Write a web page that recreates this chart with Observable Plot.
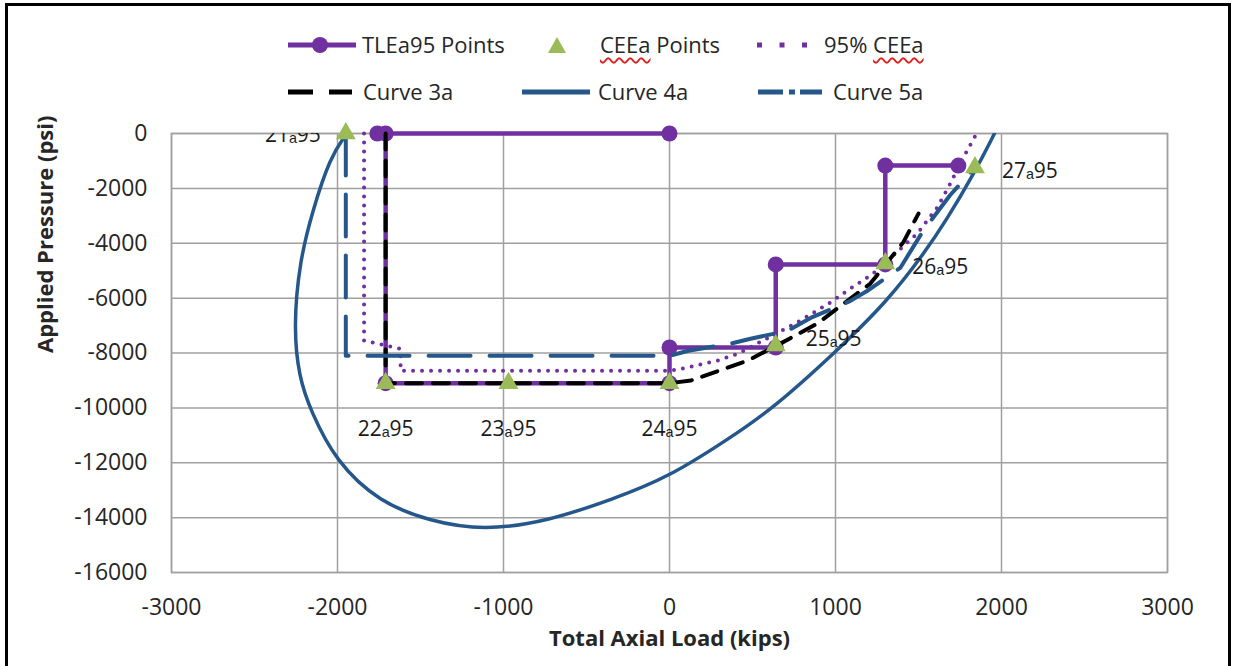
<!DOCTYPE html>
<html>
<head>
<meta charset="utf-8">
<script src="https://cdn.jsdelivr.net/npm/d3@7"></script>
<script src="https://cdn.jsdelivr.net/npm/@observablehq/plot@0.6"></script>
<style>
  body { margin: 0; background: #fff; font-family: "Open Sans", sans-serif; }
  #wrap { position: relative; width: 1233px; height: 666px; overflow: hidden; background: #fff; }
  #frame { position: absolute; left: 5px; top: 3px; width: 1226px; height: 720px; border: 3px solid #000; box-sizing: border-box; pointer-events: none; }
  #legend { position: relative; height: 110px; }
  .sw { position: absolute; overflow: visible; }
  .lt { position: absolute; font-size: 22px; line-height: 22px; color: #262626; white-space: nowrap; }
  .sp { text-decoration: underline wavy #e02020; text-decoration-skip-ink: none; text-underline-offset: 4px; text-decoration-thickness: 1.5px; }
  #chart svg { display: block; }
</style>
</head>
<body>
<div id="wrap">
  <div id="legend"></div>
  <div id="chart"></div>
  <div id="frame"></div>
</div>
<script>
// ---------- data ----------
const xTicks = [-3000, -2000, -1000, 0, 1000, 2000, 3000];
const yTicks = [0, -2000, -4000, -6000, -8000, -10000, -12000, -14000, -16000];

// TLEa95 Points (step line with circle markers)
const tleX = [0, -1760, -1710, -1710, 0, 0, 640, 640, 1300, 1300, 1740];
const tleY = [0, 0, 0, -9100, -9100, -7800, -7800, -4770, -4770, -1170, -1170];

// CEEa Points (triangles) and their labels
const ceeX = [-1950, -1710, -970, 0, 640, 1300, 1840];
const ceeY = [0, -9100, -9100, -9100, -7730, -4740, -1240];
const ceeLabels = ["21ₐ95", "22ₐ95", "23ₐ95", "24ₐ95", "25ₐ95", "26ₐ95", "27ₐ95"];

// 95% CEEa (dotted)
const dotX = [-1840, -1840, -1620, -1620, 0, 84, 289, 415, 640, 789, 969, 1072, 1228, 1493, 1613, 1692, 1770, 1850];
const dotY = [0, -7550, -7850, -8650, -8650, -8565, -8275, -8020, -7300, -6816, -6160, -5723, -5103, -3645, -2697, -1822, -875, 0];

// Curve 3a (black dashed)
const c3X = [-1710, -1710, 0, 130, 470, 670, 890, 1210, 1410, 1500];
const c3Y = [0, -9100, -9100, -9000, -8280, -7650, -6930, -5470, -3950, -2920];

// Curve 4a (solid blue loop)
const c4X = [-1945, -2045, -2150, -2228, -2265, -2232, -2162, -2010, -1748, -1440, -1119, -737, -337, -6, 367, 627, 990, 1316, 1532, 1666, 1833, 1952, 2024];
const c4Y = [0, -872, -2816, -4638, -7067, -8889, -10102, -11960, -13440, -14140, -14470, -14140, -13320, -12530, -11090, -10000, -8026, -6095, -4382, -3180, -1468, -84, 830];

// Curve 5a (blue long dash-dot)
const c5X = [-1950, -1950, 0, 114, 367, 488, 711, 850, 1090, 1190, 1390, 1528, 1690, 1840];
const c5Y = [0, -8100, -8100, -7920, -7660, -7480, -7190, -6720, -6100, -5740, -4900, -3550, -2250, -1240];

// ---------- styling ----------
const purple = "#7030A0", green = "#9BBB59", blue = "#25578A", black = "#000000";
const rows = (xs, ys) => xs.map((x, i) => ({x, y: ys[i]}));
const tle = rows(tleX, tleY);
const cee = ceeX.map((x, i) => ({x, y: ceeY[i], label: ceeLabels[i], i}));
const dot = rows(dotX, dotY);
const c3 = rows(c3X, c3Y);
const c4 = rows(c4X, c4Y);
const c5 = rows(c5X, c5Y);

// ---------- legend ----------
const legend = document.getElementById("legend");
function sw(x, y, w, h, inner) {
  const s = document.createElementNS("http://www.w3.org/2000/svg", "svg");
  s.setAttribute("class", "sw");
  s.setAttribute("width", w); s.setAttribute("height", h);
  s.style.left = x + "px"; s.style.top = (y - h / 2) + "px";
  s.innerHTML = inner;
  legend.appendChild(s);
}
function lt(x, y, html) {
  const d = document.createElement("div");
  d.className = "lt";
  d.style.left = x + "px"; d.style.top = (y - 12) + "px";
  d.innerHTML = html;
  legend.appendChild(d);
}
// row 1
sw(288, 45, 68, 20, `<line x1="0" y1="10" x2="68" y2="10" stroke="${purple}" stroke-width="5"/><circle cx="32" cy="10" r="8" fill="${purple}"/>`);
lt(362, 45, "TLEa95 Points");
sw(547, 45, 20, 20, `<path d="M10,2 L19,18 L1,18 Z" fill="${green}"/>`);
lt(600, 45, `<span class="sp">CEEa</span> Points`);
sw(757, 45, 56, 20, `<line x1="0" y1="10" x2="56" y2="10" stroke="${purple}" stroke-width="5" stroke-dasharray="5 17.5"/>`);
lt(824, 45, `95% <span class="sp">CEEa</span>`);
// row 2
sw(288, 92, 64, 20, `<line x1="0" y1="10" x2="64" y2="10" stroke="${black}" stroke-width="5" stroke-dasharray="25 16"/>`);
lt(363, 92, "Curve 3a");
sw(522, 92, 68, 20, `<line x1="0" y1="10" x2="68" y2="10" stroke="${blue}" stroke-width="5"/>`);
lt(598, 92, "Curve 4a");
sw(758, 92, 64, 20, `<line x1="0" y1="10" x2="64" y2="10" stroke="${blue}" stroke-width="5" stroke-dasharray="25 6 6 5"/>`);
lt(833, 92, "Curve 5a");

// ---------- chart ----------
const gridStyle = {stroke: "#a0a0a0", strokeOpacity: 1, strokeWidth: 1.5};
const chart = Plot.plot({
  width: 1233,
  height: 556,
  marginLeft: 171,
  marginRight: 66,
  marginTop: 23,
  marginBottom: 94,
  style: {fontFamily: "Open Sans, sans-serif", fontSize: "23px", color: "#262626", background: "transparent"},
  x: {domain: [-3000, 3000]},
  y: {domain: [-16000, 0]},
  marks: [
    Plot.gridX(xTicks, gridStyle),
    Plot.gridY(yTicks, gridStyle),
    Plot.frame({stroke: "#a0a0a0", strokeWidth: 1.5}),
    Plot.axisX(xTicks, {tickSize: 0, tickPadding: 26, label: null, tickFormat: d => String(d), fontSize: 23}),
    Plot.axisY(yTicks, {tickSize: 0, tickPadding: 24, label: null, tickFormat: d => String(d), fontSize: 23}),
    Plot.text(["Total Axial Load (kips)"], {frameAnchor: "bottom", dy: 73, fontWeight: "bold", fontSize: 22, fill: "#262626"}),
    Plot.text(["Applied Pressure (psi)"], {frameAnchor: "left", dx: -126, rotate: -90, fontWeight: "bold", fontSize: 22, fill: "#262626"}),
    // TLEa95 step line
    Plot.line(tle, {x: "x", y: "y", stroke: purple, strokeWidth: 4.5}),
    Plot.dot(tle, {x: "x", y: "y", r: 8, fill: purple, stroke: "none"}),
    // 95% CEEa
    Plot.line(dot, {x: "x", y: "y", stroke: purple, strokeWidth: 4, strokeDasharray: "0 9", strokeLinecap: "round"}),
    // Curve 3a
    Plot.line(c3, {x: "x", y: "y", stroke: black, strokeWidth: 4, strokeDasharray: "16 11"}),
    // Curve 4a
    Plot.line(c4, {x: "x", y: "y", stroke: blue, strokeWidth: 3.5, curve: "basis", clip: true}),
    // Curve 5a
    Plot.line(c5, {x: "x", y: "y", stroke: blue, strokeWidth: 4, strokeDasharray: "42 19"}),
    // CEEa triangles
    Plot.dot(cee, {x: "x", y: "y", symbol: "triangle", r: 7.4, fill: green, stroke: "none"}),
    // labels
    Plot.text(cee.filter(d => d.i === 0), {x: "x", y: "y", text: "label", textAnchor: "end", dx: -25, dy: 2, fontSize: 21, fill: "#1a1a1a", clip: true}),
    Plot.text(cee.filter(d => d.i >= 1 && d.i <= 3), {x: "x", y: "y", text: "label", dy: 46, fontSize: 21, fill: "#1a1a1a"}),
    Plot.text(cee.filter(d => d.i === 4), {x: "x", y: "y", text: "label", textAnchor: "start", dx: 30, dy: -6, fontSize: 21, fill: "#1a1a1a"}),
    Plot.text(cee.filter(d => d.i >= 5), {x: "x", y: "y", text: "label", textAnchor: "start", dx: 27, dy: 4, fontSize: 21, fill: "#1a1a1a"})
  ]
});
document.getElementById("chart").appendChild(chart);
</script>
</body>
</html>
